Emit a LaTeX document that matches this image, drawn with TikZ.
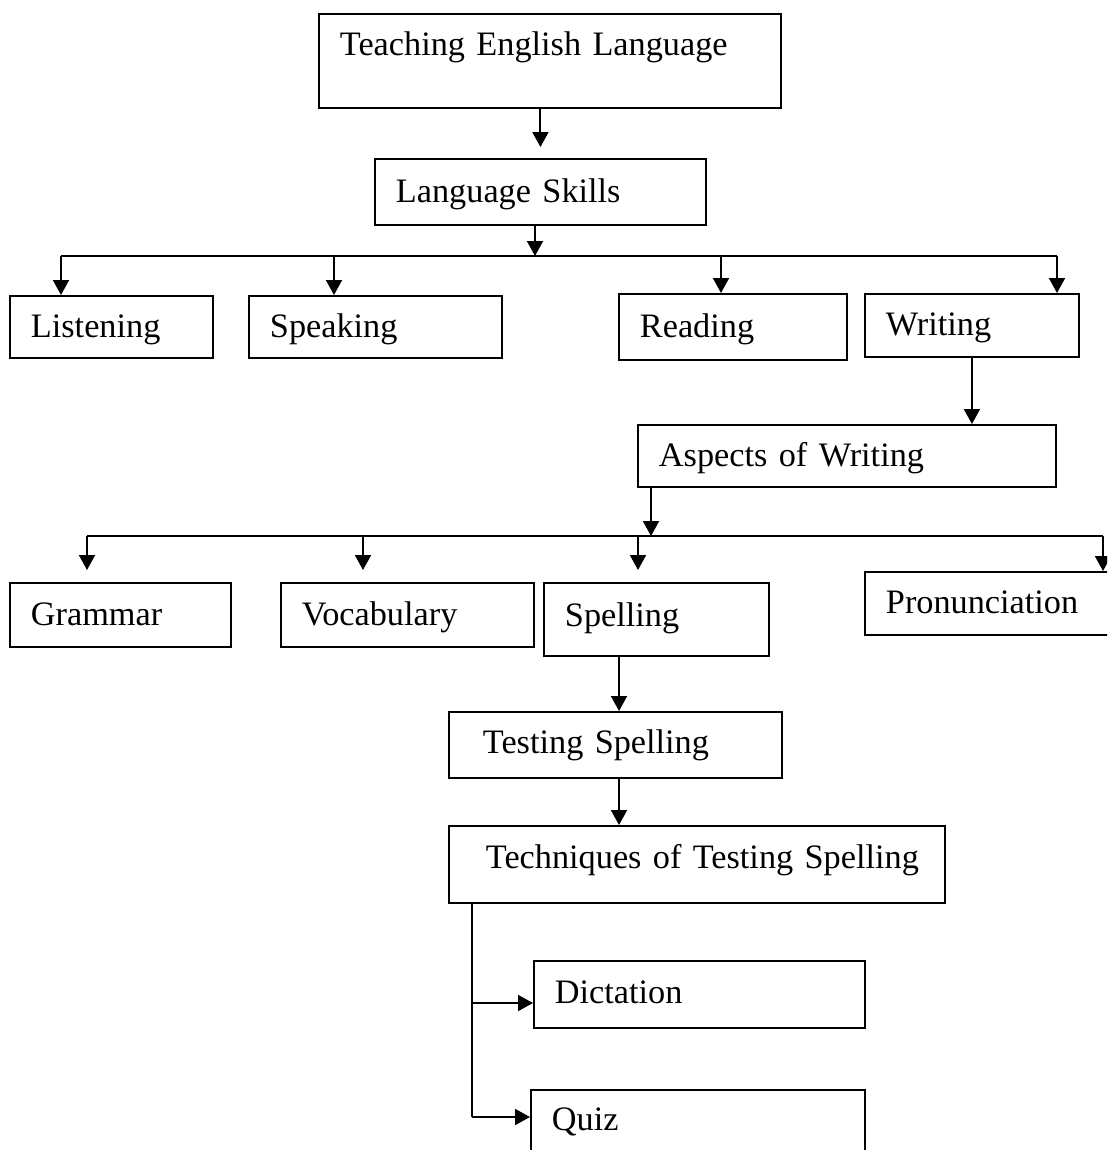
\documentclass[tikz,border=0pt]{standalone}
\usepackage{fontspec}
\setmainfont{Liberation Serif}
\usetikzlibrary{arrows.meta}
\begin{document}
\begin{tikzpicture}[x=0.02cm,y=-0.02cm,line width=1.1pt]
\path[use as bounding box,clip] (0,0) rectangle (1107,1150);
\tikzstyle{box}=[draw,rectangle,anchor=north west,inner xsep=0.42cm,inner ysep=0pt,align=left,text height=0.6cm,text depth=0.18cm,font=\fontsize{19.5pt}{23pt}\selectfont];
\tikzstyle{arr}=[-{Triangle[length=0.3cm,width=0.32cm]}];
\node[box,text width=8.4cm,minimum height=1.88cm,text depth=0.8cm] (tel) at (318,13) {Teaching English Language};
\node[box,text width=5.78cm,minimum height=1.32cm] (ls) at (374,158) {Language Skills};
\node[box,text width=3.22cm,minimum height=1.24cm] (lis) at (9,295) {Listening};
\node[box,text width=4.22cm,minimum height=1.24cm] (spk) at (248,295) {Speaking};
\node[box,text width=3.72cm,minimum height=1.32cm] (rd) at (618,293) {Reading};
\node[box,text width=3.44cm,minimum height=1.26cm] (wr) at (864,293) {Writing};
\node[box,text width=7.52cm,minimum height=1.24cm] (asp) at (637,424) {Aspects of Writing};
\node[box,text width=3.58cm,minimum height=1.28cm] (gr) at (9,582) {Grammar};
\node[box,text width=4.22cm,minimum height=1.28cm] (voc) at (280,582) {Vocabulary};
\node[box,text width=3.66cm,minimum height=1.46cm,text depth=0.32cm] (sp) at (543,582) {Spelling};
\node[box,text width=4.58cm,minimum height=1.26cm] (pr) at (864,571) {Pronunciation};
\node[box,inner xsep=0.68cm,text width=5.3cm,minimum height=1.32cm,text depth=0.24cm] (ts) at (448,711) {Testing Spelling};
\node[box,inner xsep=0.74cm,text width=8.44cm,minimum height=1.54cm,text depth=0.42cm] (tq) at (448,825) {\mbox{Techniques of Testing Spelling}};
\node[box,text width=5.78cm,minimum height=1.34cm,text depth=0.24cm] (dc) at (533,960) {Dictation};
\node[box,text width=5.84cm,minimum height=1.64cm,text depth=0.6cm] (qz) at (530,1089) {Quiz};
\coordinate (b0) at (535,256);
\coordinate (b1) at (61,256);
\coordinate (b2) at (334,256);
\coordinate (b3) at (721,256);
\coordinate (b4) at (1057,256);
\coordinate (c0) at (651,536);
\coordinate (c1) at (87,536);
\coordinate (c2) at (363,536);
\coordinate (c3) at (638,536);
\coordinate (c4) at (1103,536);
\coordinate (s1) at (619,700);
\coordinate (t1) at (472,1003);
\coordinate (t2) at (472,1117);
\draw[arr,shorten >=0.22cm] (ls.north |- tel.south) -- (ls.north);
\draw[arr] (b0 |- ls.south) -- (b0);
\draw (b1) -- (b4);
\draw[arr] (b1) -- (b1 |- lis.north);
\draw[arr] (b2) -- (b2 |- spk.north);
\draw[arr] (b3) -- (b3 |- rd.north);
\draw[arr] (b4) -- (b4 |- wr.north);
\draw[arr] (wr.south) -- (wr.south |- asp.north);
\draw[arr] (c0 |- asp.south) -- (c0);
\draw (c1) -- (c4);
\draw[arr,shorten >=0.24cm] (c1) -- (c1 |- gr.north);
\draw[arr,shorten >=0.24cm] (c2) -- (c2 |- voc.north);
\draw[arr,shorten >=0.24cm] (c3) -- (c3 |- sp.north);
\draw[arr] (c4) -- (c4 |- pr.north);
\draw[arr] (s1 |- sp.south) -- (s1 |- ts.north);
\draw[arr] (s1 |- ts.south) -- (s1 |- tq.north);
\draw (t1 |- tq.south) -- (t2);
\draw[arr] (t1) -- (t1 -| dc.west);
\draw[arr] (t2) -- (t2 -| qz.west);
\end{tikzpicture}
\end{document}
